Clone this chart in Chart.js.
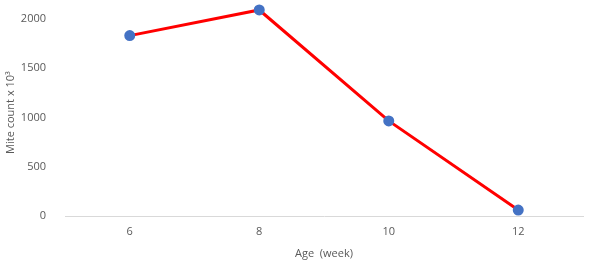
<!DOCTYPE html>
<html>
<head>
<meta charset="utf-8">
<script src="https://cdn.jsdelivr.net/npm/chart.js@4"></script>
<style>
  html, body { margin: 0; padding: 0; background: #fff; }
  #wrap { width: 590px; height: 266px; }
</style>
</head>
<body>
<div id="wrap"><canvas id="myChart"></canvas></div>
<script>
const ageWeeks = ['6', '8', '10', '12'];
const miteCount = [1830, 2090, 965, 60];
const yTicks = [0, 500, 1000, 1500, 2000];

const ctx = document.getElementById('myChart');
const textColor = '#595959';
const font = { family: "'Open Sans', 'Liberation Sans', sans-serif", size: 11 };

let myChart = new Chart(ctx, {
    type: 'line',
    data: {
        labels: ageWeeks,
        datasets: [{
            data: miteCount,
            borderColor: '#ff0000',
            borderWidth: 3,
            pointBackgroundColor: '#4472c4',
            pointBorderColor: '#4472c4',
            pointRadius: 4,
            tension: 0,
            clip: false
        }]
    },
    options: {
        responsive: true,
        maintainAspectRatio: false,
        animation: false,
        layout: { padding: { top: 9, right: 7, left: 0, bottom: 0 } },
        plugins: { legend: { display: false }, tooltip: { enabled: false } },
        scales: {
            x: {
                offset: true,
                grid: { display: false, drawTicks: false },
                border: { color: '#d9d9d9', width: 1 },
                ticks: { color: textColor, font: font, padding: 9 },
                title: { display: true, text: 'Age  (week)', color: textColor, font: font, padding: { top: 8, bottom: 6 } },
                afterFit: (scale) => { scale.height = 50; }
            },
            y: {
                min: 0,
                max: 2100,
                grid: { display: false },
                border: { display: false },
                afterBuildTicks: (axis) => { axis.ticks = yTicks.map(v => ({ value: v })); },
                ticks: { color: textColor, font: font, padding: 11, callback: (v) => String(v) },
                title: { display: true, text: 'Mite count x 10³', color: textColor, font: font, padding: 4 },
                afterFit: (scale) => {
                    scale.width = 65;
                    scale.paddingTop = 0;
                    scale.paddingBottom = 0;
                }
            }
        }
    }
});
</script>
</body>
</html>
